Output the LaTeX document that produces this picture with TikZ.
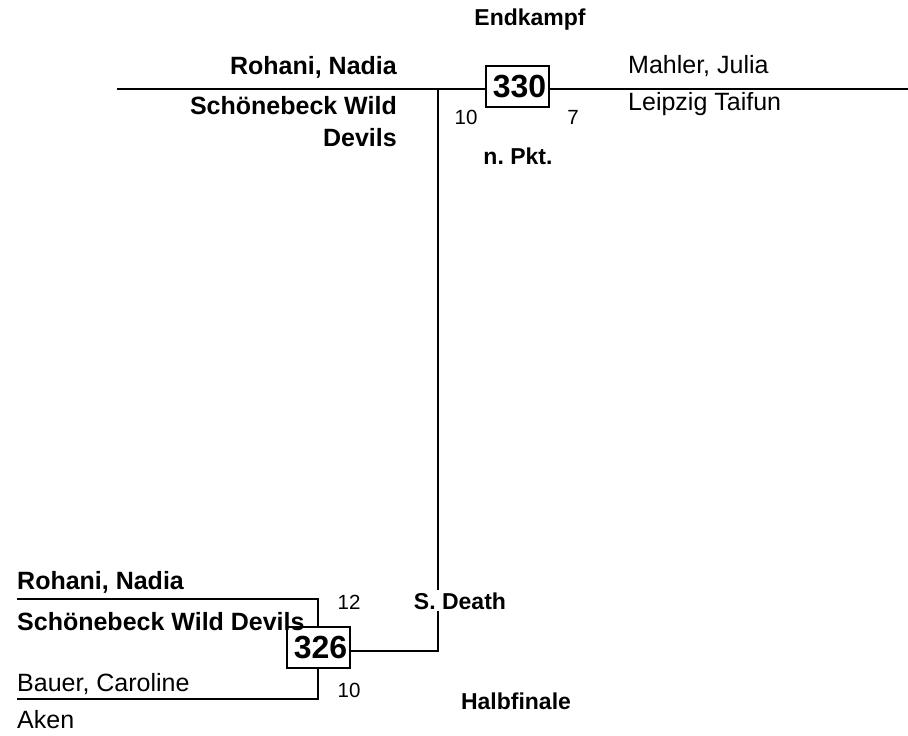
\documentclass[tikz,border=0pt]{standalone}
\usepackage{fontspec}
\setmainfont{Liberation Sans}
\frenchspacing
\begin{document}
\begin{tikzpicture}[x=1pt,y=-1pt,
  bline/.style={line width=2.9pt},
  plain/.style={inner sep=0pt,font=\fontsize{25}{32}\selectfont},
  bplain/.style={inner sep=0pt,font=\bfseries\fontsize{25}{32}\selectfont},
  score/.style={inner sep=0pt,font=\fontsize{20.5}{24}\selectfont},
  lab/.style={inner sep=0pt,font=\bfseries\fontsize{23}{28}\selectfont},
  matchbox/.style={draw,line width=1.2pt,fill=white,inner sep=0pt,minimum width=63pt,minimum height=41pt,font=\bfseries\fontsize{32}{36}\selectfont}]
\useasboundingbox (0,0) rectangle (908,736);
% top final
\coordinate (tl) at (117,89);
\coordinate (tr) at (908,89);
\coordinate (vt) at (438,89);
\coordinate (vb) at (438,651);
\draw[bline] (tl) -- (tr);
\node[matchbox] (m330) at (517.5,86.5) {\hspace{4pt}330};
\node[lab,anchor=base] (endk) at (530,25) {Endkampf};
\node[bplain,anchor=base east] (t1) at (397,74) {Rohani, Nadia};
\node[bplain,anchor=base east,align=right] (t2) at (397,146) {Schönebeck Wild\\Devils};
\node[plain,anchor=base west] (t3) at (628,73) {Mahler, Julia};
\node[plain,anchor=base west] (t4) at (628,110) {Leipzig Taifun};
\node[score,anchor=base] (s1) at (466,124) {10};
\node[score,anchor=base] (s2) at (573,124) {7};
\node[lab,anchor=base] (np) at (518,164) {n. Pkt.};
% semi
\coordinate (a1) at (17,599);
\coordinate (a2) at (318,599);
\coordinate (b1) at (17,699);
\coordinate (b2) at (318,699);
\draw[bline] (a1) -- (a2) -- (b2) -- (b1);
\node[matchbox] (m326) at (318.5,647.5) {\hspace{4pt}326};
\draw[bline] (vt) -- (vb) -- (m326.east |- vb);
\node[bplain,anchor=base west] (h1) at (17,589) {Rohani, Nadia};
\node[bplain,anchor=base west] (h2) at (17,630) {Schönebeck Wild Devils};
\node[plain,anchor=base west] (h3) at (17,691) {Bauer, Caroline};
\node[plain,anchor=base west] (h4) at (17,728) {Aken};
\node[score,anchor=base] (s3) at (349,609) {12};
\node[score,anchor=base] (s4) at (349,697) {10};
\node[lab,anchor=base,fill=white,inner sep=2pt] (sd) at (460,609) {S. Death};
\node[lab,anchor=base] (hf) at (516,709) {Halbfinale};
\end{tikzpicture}
\end{document}
